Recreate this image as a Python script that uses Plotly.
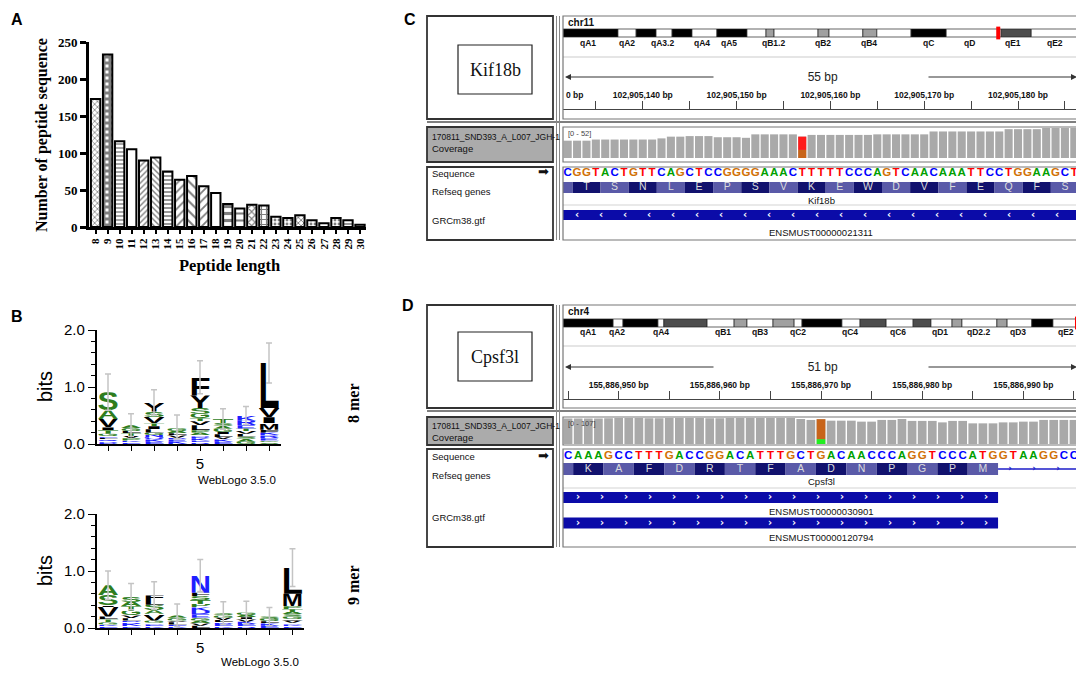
import base64
import numpy as np
import plotly.graph_objects as go

W, H = 1084, 673
OFF = 8  # the page body adds an 8 px margin around the plot
SERIF = "Liberation Serif"
SANS = "Liberation Sans"

# ---------------- data ----------------
# A: number of peptides per length
pep_len = list(range(8, 31))
pep_count = [173, 233, 116, 105, 90, 94, 75, 64, 69, 55, 46, 31, 25, 30, 29, 14, 12, 16, 9, 5, 12, 9, 3]

# B: logo letters bottom -> top with heights in bits, plus error bar half widths
mer8_letters = ["DRQLEGTIVAS", "EKPVTLGA", "EKQNGLITVSY", "KEDVLAGS",
                "REKDNAPLVTGSYF", "EKVLIGAST", "GASLVTERK", "SGERKFMIVL"]
mer8_bits = [
    [0.02, 0.03, 0.03, 0.03, 0.03, 0.04, 0.06, 0.05, 0.15, 0.15, 0.32],
    [0.03, 0.03, 0.04, 0.04, 0.05, 0.04, 0.05, 0.05],
    [0.04, 0.04, 0.04, 0.04, 0.04, 0.06, 0.05, 0.05, 0.12, 0.09, 0.16],
    [0.04, 0.04, 0.03, 0.04, 0.04, 0.04, 0.04, 0.03],
    [0.03, 0.03, 0.04, 0.03, 0.03, 0.04, 0.04, 0.09, 0.07, 0.05, 0.08, 0.10, 0.22, 0.32],
    [0.04, 0.04, 0.04, 0.05, 0.04, 0.06, 0.05, 0.05, 0.07],
    [0.04, 0.05, 0.04, 0.05, 0.05, 0.04, 0.06, 0.08, 0.09],
    [0.03, 0.03, 0.04, 0.05, 0.05, 0.05, 0.12, 0.10, 0.16, 0.79],
]
mer8_err = [0.32, 0.20, 0.22, 0.21, 0.29, 0.18, 0.16, 0.35]

mer9_letters = ["EKGTLVISA", "EKRDLVGTAS", "KEDGVASLF", "KELVGA",
                "LVAGEDKPTSFN", "KEDLVGS", "REKVIAG", "EKLGS", "EKDVIGSATPML"]
mer9_bits = [
    [0.03, 0.03, 0.04, 0.05, 0.05, 0.17, 0.03, 0.18, 0.17],
    [0.03, 0.04, 0.03, 0.03, 0.04, 0.05, 0.08, 0.08, 0.08, 0.09],
    [0.03, 0.03, 0.03, 0.04, 0.12, 0.06, 0.10, 0.08, 0.08],
    [0.03, 0.03, 0.04, 0.03, 0.05, 0.04],
    [0.04, 0.04, 0.05, 0.05, 0.06, 0.06, 0.06, 0.06, 0.07, 0.07, 0.06, 0.30],
    [0.03, 0.04, 0.03, 0.04, 0.04, 0.04, 0.04],
    [0.03, 0.04, 0.04, 0.04, 0.04, 0.04, 0.04],
    [0.04, 0.04, 0.04, 0.04, 0.04],
    [0.03, 0.03, 0.03, 0.04, 0.03, 0.04, 0.04, 0.04, 0.05, 0.05, 0.22, 0.46],
]
mer9_err = [0.25, 0.23, 0.24, 0.20, 0.28, 0.20, 0.20, 0.16, 0.33]

# C: Kif18b locus
c_chrom, c_chrom_mb = "chr11", 122.0
c_band_edges = [0, 13.0, 17.3, 22.0, 25.8, 30.5, 36.4, 43.5, 48.0, 49.9, 60.3, 62.9,
                70.9, 74.2, 82.3, 90.6, 103.6, 110.7, 122.0]
c_band_stain = ["gpos100", "gneg", "gpos100", "gneg", "gpos100", "gneg", "gpos100", "gneg",
                "gpos33", "gneg", "gpos33", "gneg", "gpos33", "gneg", "gpos100", "gneg",
                "gpos75", "gneg"]
c_band_names = ["qA1", "qA2", "qA3.2", "qA4", "qA5", "qB1.2", "qB2", "qB4", "qC", "qD", "qE1", "qE2"]
c_band_mb = [5.9, 15.1, 23.6, 32.9, 39.2, 49.7, 61.5, 72.3, 86.3, 96.2, 106.4, 116.3]
c_seq = "CGGTACTGTTCAGCTCCGGGGAAACTTTTTCCCAGTCAACAAATTCCTGGAAGCT"
c_start = 102905132
c_cov = [30, 30, 30, 32, 32, 32, 32, 32, 32, 32, 34, 37, 37, 38, 38, 38, 36, 36, 36, 35,
         41, 41, 41, 41, 41, 37, 40, 40, 40, 40, 40, 40, 40, 41, 41, 41, 41, 41, 41,
         46, 46, 46, 46, 46, 46, 46, 46, 50, 50, 50, 50, 52, 52, 52, 52]
c_mm_pos = 102905157
c_mm_alleles = ["G", "T"]
c_mm_counts = [14, 23]
c_codon_start = 102905133
c_aa = "TSNLEPSVKEWDVFEQFS"
c_exon = (102905100, 102905200)
c_strand = "-"
c_gene = "Kif18b"
c_tx = ["ENSMUST00000021311"]

# D: Cpsf3l locus
d_chrom, d_chrom_mb = "chr4", 156.5
d_band_edges = [0, 15.2, 18.2, 28.8, 30.6, 43.7, 51.9, 55.8, 63.7, 70.1, 72.5, 84.6, 90.1,
                98.0, 106.2, 111.6, 118.0, 121.0, 131.6, 134.7, 142.2, 148.6, 156.5]
d_band_stain = ["gpos100", "gneg", "gpos100", "gneg", "gpos75", "gneg", "gpos33", "gneg",
                "gpos33", "gneg", "gpos100", "gneg", "gpos75", "gneg", "gpos75", "gneg",
                "gpos33", "gneg", "gpos33", "gneg", "gpos100", "gneg"]
d_band_names = ["qA1", "qA2", "qA4", "qB1", "qB3", "qC2", "qC4", "qC6", "qD1", "qD2.2", "qD3", "qE2"]
d_band_mb = [7.6, 16.5, 29.6, 48.5, 59.8, 71.3, 87.1, 101.6, 114.4, 125.9, 138.0, 152.5]
d_seq = "CAAAGCCTTTGACCGGACATTTGCTGACAACCCAGGTCCCATGGTAAGGCC"
d_start = 155886945
d_cov = [105, 105, 105, 105, 106, 107, 107, 107, 106, 106, 107, 107, 107, 107, 106, 106, 107,
         107, 107, 107, 107, 107, 107, 103, 99, 102, 96, 96, 96, 92, 92, 99, 99, 103, 95, 95,
         95, 89, 95, 95, 85, 85, 85, 89, 89, 92, 92, 99, 99, 99, 99]
d_mm_pos = 155886970
d_mm_alleles = ["A", "G"]
d_mm_counts = [20, 82]
d_codon_start = 155886946
d_aa = "KAFDRTFADNPGPM"
d_exon = (155886900, 155886987)
d_strand = "+"
d_gene = "Cpsf3l"
d_tx = ["ENSMUST00000030901", "ENSMUST00000120794"]

track_name = "170811_SND393_A_L007_JGH-1"

# ---------------- helpers ----------------
FW, FH = W - OFF, H - OFF


def fx(p):
    return (p - OFF) / FW


def fy(p):
    return 1 - (p - OFF) / FH


def akey(a):
    return a[0] + "axis" + a[1:]


fig = go.Figure()
axes = {}
shapes = []
annots = []
images = []


def note(text, x, y, size=10, family=SANS, color="#111", weight="normal", angle=0,
         xanchor="center", yanchor="middle", xref="paper", yref="paper", **kw):
    # x / y are pixels when the reference is "paper", data values otherwise
    if xref == "paper":
        x = fx(x)
    if yref == "paper":
        y = fy(y)
    annots.append(dict(text=text, x=x, y=y, xref=xref, yref=yref, showarrow=False,
                       xanchor=xanchor, yanchor=yanchor, textangle=angle,
                       font=dict(family=family, size=size, color=color, weight=weight), **kw))


def box(x0, y0, x1, y1, color="#333", width=1.5, fill=None, layer="above"):
    shapes.append(dict(type="rect", xref="paper", yref="paper", x0=fx(x0), x1=fx(x1),
                       y0=fy(y1), y1=fy(y0), line=dict(color=color, width=width),
                       fillcolor=fill, layer=layer))


def hline(x0, x1, y, color="#555", width=1.0):
    shapes.append(dict(type="line", xref="paper", yref="paper", x0=fx(x0), x1=fx(x1),
                       y0=fy(y), y1=fy(y), line=dict(color=color, width=width)))


def vline(x, y0, y1, color="#888", width=1.0):
    shapes.append(dict(type="line", xref="paper", yref="paper", x0=fx(x), x1=fx(x),
                       y0=fy(y0), y1=fy(y1), line=dict(color=color, width=width)))


# ---------------- A: bar chart ----------------
bar_shape = ["x", "+", "-", "", "/", "\\", "-", "/", "\\", "/", "", "-", "-", "x", "+",
             ".", ".", "x", ".", "", ".", "-", ""]
bar_psize = [4, 6, 4, 6, 4, 4, 4, 6, 7, 6, 6, 7, 7, 5, 5, 4, 4, 4, 4, 6, 4, 4, 6]
bar_solid = [0.35, 0.75, 0.35, 0.3, 0.35, 0.35, 0.4, 0.3, 0.3, 0.3, 0.3, 0.45, 0.3, 0.4,
             0.4, 0.4, 0.4, 0.4, 0.4, 0.3, 0.4, 0.4, 0.3]

fig.add_trace(go.Bar(
    x=pep_len, y=pep_count, width=0.78,
    marker=dict(color="white", line=dict(color="black", width=2),
                pattern=dict(shape=bar_shape, size=bar_psize, solidity=bar_solid,
                             fgcolor="black", bgcolor="white")),
    xaxis="x", yaxis="y", hoverinfo="skip", showlegend=False))

axes["xaxis"] = dict(domain=[fx(89), fx(366)], range=[7.45, 30.5], anchor="y",
                     tickmode="linear", tick0=8, dtick=1, ticks="outside", ticklen=4,
                     tickwidth=1.5, tickcolor="black", tickangle=-90,
                     showline=True, linecolor="black", linewidth=3,
                     tickfont=dict(family=SERIF, size=11, color="black", weight="bold"),
                     showgrid=False, zeroline=False)
axes["yaxis"] = dict(domain=[fy(227), fy(42)], range=[0, 250], anchor="x",
                     tickvals=[0, 50, 100, 150, 200, 250], ticks="outside", ticklen=6,
                     tickwidth=2.5, tickcolor="black", showline=True, linecolor="black",
                     linewidth=3, tickfont=dict(family=SERIF, size=13, color="black", weight="bold"),
                     showgrid=False, zeroline=False)
note("A", 8.5, 8.5, size=16, weight="bold", color="black", xanchor="left", yanchor="top")
note("Number of peptide sequence", 42, 135, size=16, family=SERIF, weight="bold",
     color="black", angle=-90)
note("Peptide length", 229, 265, size=16.5, family=SERIF, weight="bold", color="black")


# ---------------- B: sequence logos ----------------
def aa_color(a):
    if a in "RKDENQ":
        return "#1f1fff"
    if a in "SGHTAP":
        return "#2e7d1e"
    return "#000000"


glyph_cache = {}


def glyph(letter, color):
    key = (letter, color)
    if key not in glyph_cache:
        svg = ('<svg xmlns="http://www.w3.org/2000/svg" width="100" height="100" '
               'viewBox="0 0 100 100" preserveAspectRatio="none">'
               f'<text x="0" y="100" font-family="{SANS}, Arial, sans-serif" font-weight="bold" '
               'font-size="144" textLength="100" lengthAdjust="spacingAndGlyphs" '
               f'fill="{color}">{letter}</text></svg>')
        glyph_cache[key] = "data:image/svg+xml;base64," + base64.b64encode(svg.encode()).decode()
    return glyph_cache[key]


def add_logo(xa, ya, letters, bits, err, top, bottom, right):
    n = len(letters)
    tops = []
    for i, (seq, hs) in enumerate(zip(letters, bits), start=1):
        base = 0.0
        for a, h in zip(seq, hs):
            images.append(dict(source=glyph(a, aa_color(a)), xref=xa, yref=ya,
                               x=i - 0.46, y=base + h, sizex=0.92, sizey=h,
                               xanchor="left", yanchor="top", sizing="stretch", layer="below"))
            base += h
        tops.append(base)
    fig.add_trace(go.Scatter(
        x=list(range(1, n + 1)), y=tops, mode="markers",
        marker=dict(size=2, color="rgba(0,0,0,0)"),
        error_y=dict(type="data", array=err, color="#c4c4c4", thickness=1.5, width=3),
        xaxis=xa, yaxis=ya, hoverinfo="skip", showlegend=False))
    axes[akey(xa)] = dict(domain=[fx(96.5), fx(right)], range=[0.5, n + 0.5], anchor=ya,
                          tickvals=list(range(1, n + 1)),
                          ticktext=["5" if i == 5 else "" for i in range(1, n + 1)],
                          ticks="outside", ticklen=5, tickcolor="black", showline=True,
                          linecolor="black", linewidth=1.5,
                          tickfont=dict(family=SANS, size=15, color="black"),
                          showgrid=False, zeroline=False)
    axes[akey(ya)] = dict(domain=[fy(bottom), fy(top)], range=[0, 2], anchor=xa,
                          tickvals=[0, 1, 2], ticktext=["0.0", "1.0", "2.0"],
                          ticks="outside", ticklen=7, tickcolor="black",
                          minor=dict(tickmode="linear", tick0=0, dtick=0.2, ticks="outside",
                                     ticklen=4, tickcolor="black", showgrid=False),
                          showline=True, linecolor="black", linewidth=1.5,
                          tickfont=dict(family=SANS, size=15, color="black"),
                          showgrid=False, zeroline=False)


add_logo("x2", "y2", mer8_letters, mer8_bits, mer8_err, 330, 444, 280.5)
add_logo("x3", "y3", mer9_letters, mer9_bits, mer9_err, 514, 628, 304)
note("B", 8.5, 316, size=16, weight="bold", color="black", xanchor="left")
note("bits", 45, 387, size=20, color="black", angle=-90)
note("bits", 45, 571, size=20, color="black", angle=-90)
note("WebLogo 3.5.0", 237, 480, size=11.5, color="black")
note("WebLogo 3.5.0", 260, 662, size=11.5, color="black")
note("8 mer", 353, 403, size=16, family=SERIF, weight="bold", color="black", angle=-90)
note("9 mer", 353, 585, size=16, family=SERIF, weight="bold", color="black", angle=-90)

# ---------------- C / D: genome browser views ----------------
BASE_COL = {"A": "#00a000", "C": "#0000ff", "G": "#d17105", "T": "#ff0000"}
MM_COL = {"A": "#22ee22", "C": "#0000ff", "G": "#c8641a", "T": "#ff1a1a"}
STAIN_COL = {"gneg": "#ffffff", "gpos33": "#a0a0a0", "gpos75": "#4d4d4d", "gpos100": "#000000"}
X0, X1 = 563, 1079
LX0, LX1 = 427, 553


def add_igv(ax, lay, chrom, chrom_len, edges, stains, bnames, bmb, seq, start, cov,
            mm_pos, mm_alleles, mm_counts, codon_start, aa, exon, strand, gene, txs):
    xi, yi, xr, yc, yt = ax
    rows = lay["rows"]
    n = len(seq)
    lo, hi = start - 0.5, start + n - 0.5
    pos = np.arange(start, start + n)
    ppb = (X1 - X0) / n

    # ideogram
    i0, i1 = lay["ideo"]
    u = i1 - i0
    axes[akey(xi)] = dict(domain=[fx(X0), fx(X1)], range=[0, chrom_len], visible=False, anchor=yi)
    axes[akey(yi)] = dict(domain=[fy(i1 + 0.35 * u), fy(i0 - 0.35 * u)], range=[-0.35, 1.35],
                          visible=False, anchor=xi)
    e = np.array(edges)
    fig.add_trace(go.Bar(orientation="h", y=[0.5] * len(stains), x=np.diff(e), base=e[:-1],
                         width=1, marker=dict(color=[STAIN_COL[s] for s in stains],
                                              line=dict(color="#222", width=0.7)),
                         xaxis=xi, yaxis=yi, hoverinfo="skip", showlegend=False))
    locus = (start + n / 2) / 1e6
    mw = 4 * chrom_len / (X1 - X0)
    fig.add_trace(go.Bar(orientation="h", y=[0.5], x=[mw], base=[min(locus, chrom_len - mw / 2) - mw / 2],
                         width=1.65, marker=dict(color="#ff0000", line=dict(width=0)),
                         xaxis=xi, yaxis=yi, hoverinfo="skip", showlegend=False))
    for name, mb in zip(bnames, bmb):
        note(name, mb, lay["blab"], size=8.5, weight="bold", color="#111", xref=xi)
    note(chrom, X0 + 3, lay["chrom"], size=10, weight="bold", xanchor="left")
    hline(X0, X1, lay["sep"], color="#cccccc", width=1.2)

    # span arrow
    ay = fy(lay["arrow"])
    for xe, dx in ((X1 - 2, -150), (X0 + 2, 150)):
        annots.append(dict(text="", x=fx(xe), y=ay, xref="paper", yref="paper", ax=dx, ay=0,
                           showarrow=True, arrowhead=2, arrowsize=1, arrowwidth=1.2,
                           arrowcolor="#333"))
    note(f"  {n} bp  ", (X0 + X1) / 2 + 1, lay["arrow"], size=12, color="#222", bgcolor="white")

    # ruler
    tv = np.arange(np.ceil(lo / 5) * 5, hi, 5).astype(int)
    tt = [f"{v:,} bp" if v % 10 == 0 else "" for v in tv]
    axes[akey(xr)] = dict(domain=[fx(X0), fx(X1)], range=[lo, hi], anchor="free",
                          position=fy(lay["ruler"]), side="top", showline=True,
                          linecolor="#444", linewidth=1, ticks="outside", ticklen=8,
                          tickwidth=1.2, tickcolor="#444", tickvals=tv, ticktext=tt,
                          tickfont=dict(family=SANS, size=8.5, color="#111", weight="bold"),
                          showgrid=False, zeroline=False)
    if lay.get("clip_label"):
        note(lay["clip_label"], X0 + 1, lay["ruler"] - 14, size=8.5, weight="bold", xanchor="left")

    # coverage
    b0, b1 = lay["bars"]
    axes[akey(yc)] = dict(domain=[fy(b1), fy(b0)], range=[0, max(cov)], visible=False, anchor=xr)
    fig.add_trace(go.Bar(x=pos, y=cov, width=0.86, marker=dict(color="#a9a9a9", line=dict(width=0)),
                         xaxis=xr, yaxis=yc, hoverinfo="skip", showlegend=False))
    fig.add_trace(go.Bar(x=[mm_pos] * len(mm_counts), y=mm_counts,
                         base=np.cumsum([0] + mm_counts[:-1]), width=0.86,
                         marker=dict(color=[MM_COL[a] for a in mm_alleles], line=dict(width=0)),
                         xaxis=xr, yaxis=yc, hoverinfo="skip", showlegend=False))
    note(f"[0 - {max(cov)}]", X0 + 3, lay["cov"][0] + 6, size=7.5, color="#444", xanchor="left")

    # sequence, genes
    l0, l1 = lay["low"]
    axes[akey(yt)] = dict(domain=[fy(l1), fy(l0)], range=[l1 - l0, 0], visible=False, anchor=xr)
    fig.add_trace(go.Scatter(x=pos, y=[rows["seq"]] * n, mode="text", text=list(seq),
                             textfont=dict(family=SANS, size=11.5, weight="bold",
                                           color=[BASE_COL[b] for b in seq]),
                             xaxis=xr, yaxis=yt, hoverinfo="skip", showlegend=False))
    m = len(aa)
    cb = [codon_start - 0.5 + 3 * k for k in range(m)]
    cw = [3] * m
    ccol = ["#12126e" if k % 2 == 0 else "#5a5aa8" for k in range(m)]
    if codon_start - 0.5 > lo:
        cb.append(lo)
        cw.append(codon_start - 0.5 - lo)
        ccol.append("#5a5aa8")
    fig.add_trace(go.Bar(orientation="h", x=cw, base=cb, y=[rows["aa"]] * len(cb),
                         width=rows["aaw"], marker=dict(color=ccol, line=dict(width=0)),
                         xaxis=xr, yaxis=yt, hoverinfo="skip", showlegend=False))
    fig.add_trace(go.Scatter(x=[codon_start + 1 + 3 * k for k in range(m)], y=[rows["aa"]] * m,
                             mode="text", text=list(aa),
                             textfont=dict(family=SANS, size=10.5, color="#dcdcdc"),
                             xaxis=xr, yaxis=yt, hoverinfo="skip", showlegend=False))
    ex0, ex1 = max(lo, exon[0] - 0.5), min(hi, exon[1] + 0.5)
    step = 24 / ppb
    chev = "‹" if strand == "-" else "›"
    for row in rows["tx"]:
        fig.add_trace(go.Bar(orientation="h", x=[ex1 - ex0], base=[ex0], y=[row],
                             width=rows["txw"], marker=dict(color="#0b0ba8", line=dict(width=0)),
                             xaxis=xr, yaxis=yt, hoverinfo="skip", showlegend=False))
        cx = np.arange(ex0 + 1.5, ex1 - 0.5, step)
        fig.add_trace(go.Scatter(x=cx, y=[row] * len(cx), mode="text", text=[chev] * len(cx),
                                 textfont=dict(family="DejaVu Sans", size=10, color="white",
                                               weight="bold"),
                                 xaxis=xr, yaxis=yt, hoverinfo="skip", showlegend=False))
    if ex1 < hi:
        fig.add_trace(go.Scatter(x=[ex1, hi], y=[rows["aa"]] * 2, mode="lines",
                                 line=dict(color="#1c1cc8", width=1.3),
                                 xaxis=xr, yaxis=yt, hoverinfo="skip", showlegend=False))
        ix = np.arange(ex1 + 1.2, hi, step)
        fig.add_trace(go.Scatter(x=ix, y=[rows["aa"]] * len(ix), mode="text", text=[chev] * len(ix),
                                 textfont=dict(family="DejaVu Sans", size=9, color="#1c1cc8",
                                               weight="bold"),
                                 xaxis=xr, yaxis=yt, hoverinfo="skip", showlegend=False))
    mid = (lo + hi) / 2
    note(gene, mid, rows["gname"], size=9.5, color="#111", xref=xr, yref=yt)
    hline(X0, X1, l0 + rows["gsep"], color="#d4d4d4", width=1.2)
    for lab_y, tx in zip(rows["txlab"], txs):
        note(tx, mid, lab_y, size=9.5, color="#111", xref=xr, yref=yt)

    # left name pane and frames
    top, hb = lay["top"], lay["hdr_bot"]
    c0, c1 = lay["cov"]
    box(LX0, top, LX1, hb, color="#333", width=1.8)
    box(X0, top, X1, hb, color="#777", width=1.2)
    nb0, nb1 = lay["name_box"]
    box(458, nb0, 532, nb1, color="#222", width=1.2)
    note(gene, 495, (nb0 + nb1) / 2, size=18, family=SERIF, color="#111")
    hline(LX0, X1, lay["dbl"], color="#555", width=1.5)
    box(LX0, c0, LX1, c1, color="#333", width=1.8, fill="#ababab", layer="below")
    box(X0, c0, X1, c1, color="#777", width=1.2)
    box(LX0, l0, LX1, l1, color="#333", width=1.8)
    box(X0, l0, X1, l1, color="#777", width=1.2)
    vline(556.5, top, l1)
    vline(559.5, top, l1)
    t0, t1 = lay["trk"]
    note(track_name, 430, t0, size=8.5, color="#111", xanchor="left")
    note("Coverage", 430, t1, size=9.5, color="#111", xanchor="left")
    note("Sequence", 430, lay["seq_lbl"], size=9.5, color="#111", xanchor="left")
    note("➡", 543, lay["seq_lbl"] - 1, size=13, family="DejaVu Sans", color="#111")
    note("Refseq genes", 430, lay["ref_lbl"], size=9.5, color="#111", xanchor="left")
    note("GRCm38.gtf", 430, lay["gtf_lbl"], size=9.5, color="#111", xanchor="left")


c_lay = dict(top=16, chrom=23, ideo=(29, 37), blab=43, sep=57, arrow=77, ruler=109, hdr_bot=119,
             dbl=122, cov=(127, 162), bars=(128, 158), low=(167, 240), name_box=(45, 94),
             trk=(137, 149), seq_lbl=173, ref_lbl=192, gtf_lbl=221, clip_label="0 bp",
             rows=dict(seq=6, aa=20.5, aaw=11, gname=33, gsep=38, tx=[48], txw=10, txlab=[65]))
d_lay = dict(top=305, chrom=312, ideo=(319, 327), blab=332, sep=346, arrow=367, ruler=399,
             hdr_bot=408, dbl=411, cov=(417, 445), bars=(418, 444), low=(449, 547),
             name_box=(332, 381), trk=(426, 437), seq_lbl=456, ref_lbl=475, gtf_lbl=517,
             rows=dict(seq=7, aa=20, aaw=12, gname=33, gsep=39, tx=[48.5, 74], txw=11,
                       txlab=[63, 88]))

add_igv(("x4", "y4", "x5", "y5", "y6"), c_lay, c_chrom, c_chrom_mb, c_band_edges, c_band_stain,
        c_band_names, c_band_mb, c_seq, c_start, c_cov, c_mm_pos, c_mm_alleles, c_mm_counts,
        c_codon_start, c_aa, c_exon, c_strand, c_gene, c_tx)
add_igv(("x6", "y7", "x7", "y8", "y9"), d_lay, d_chrom, d_chrom_mb, d_band_edges, d_band_stain,
        d_band_names, d_band_mb, d_seq, d_start, d_cov, d_mm_pos, d_mm_alleles, d_mm_counts,
        d_codon_start, d_aa, d_exon, d_strand, d_gene, d_tx)
note("C", 402, 8.5, size=16, weight="bold", color="black", xanchor="left", yanchor="top")
note("D", 408, 305, size=16, weight="bold", color="black")

# the axes are placed by pixel, so no automatic margin growth
for a in axes.values():
    a["automargin"] = False

fig.update_layout(width=FW, height=FH, margin=dict(l=0, r=0, t=0, b=0, pad=0),
                  paper_bgcolor="white", plot_bgcolor="rgba(0,0,0,0)",
                  barmode="overlay", showlegend=False, hovermode=False,
                  images=images, shapes=shapes, annotations=annots, **axes)
fig.write_html("out.html")
